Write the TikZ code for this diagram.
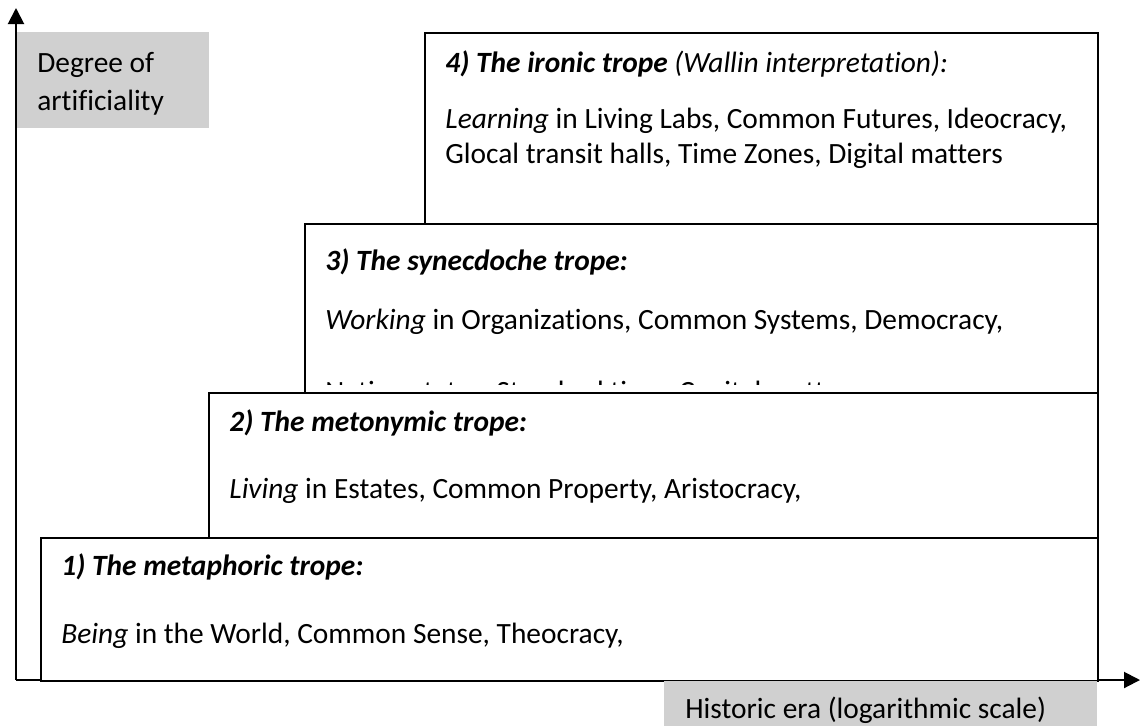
\documentclass[tikz,border=0pt]{standalone}
\usepackage{fontspec}
\setmainfont{Carlito}[Ligatures=NoCommon]
\usetikzlibrary{arrows.meta}
\definecolor{labelgray}{RGB}{208,208,208}
\begin{document}
\begin{tikzpicture}[
        x=0.5pt, y=-0.5pt,
        every node/.style={font=\fontsize{14.7pt}{17pt}\selectfont},
        trope/.style={draw, line width=1pt, fill=white, anchor=north west, inner sep=0pt},
        txt/.style={anchor=base west, inner sep=0pt},
        graybox/.style={fill=labelgray, anchor=north west, inner sep=0pt},
        axis/.style={line width=1pt, -{Triangle[length=8pt, width=8pt]}}
    ]
    \useasboundingbox (0,0) rectangle (1140,725);
    % axes
    \coordinate (origin) at (16,680);
    \coordinate (ytip) at (16,8);
    \coordinate (xtip) at (1140,680);
    \draw[axis] (origin) -- (ytip);
    \draw[axis] (origin) -- (xtip);
    % the four trope boxes
    \node[trope, minimum width=336.5pt, minimum height=95.5pt] (ironic) at (424,32) {};
    \node[trope, minimum width=396.5pt, minimum height=84.5pt] (synec) at (304,223) {};
    \node[trope, minimum width=444.5pt, minimum height=72.5pt] (meton) at (208,392) {};
    \node[trope, minimum width=528.5pt, minimum height=71.5pt] (metaph) at (40,537) {};
    % 4)
    \node[txt] (ironicT) at (445,72) {\textbf{\textit{4) The ironic trope}} \textit{(Wallin interpretation):}};
    \node[txt] (ironicA) at (445,128) {\textit{Learning} in Living Labs, Common Futures, Ideocracy,};
    \node[txt] (ironicB) at (445,163) {Glocal transit halls, Time Zones, Digital matters};
    % 3)
    \node[txt] (synecT) at (325,270) {\textbf{\textit{3) The synecdoche trope:}}};
    \node[txt] (synecA) at (325,329) {\textit{Working} in Organizations, Common Systems, Democracy,};
    \begin{scope}
        \clip (304,223) rectangle (1097,384);
        \node[txt] (synecB) at (325,401) {Nation states, Standard time, Capital matters};
    \end{scope}
    % 2)
    \node[txt] (metonT) at (229,431) {\textbf{\textit{2) The metonymic trope:}}};
    \node[txt] (metonA) at (229,498) {\textit{Living} in Estates, Common Property, Aristocracy,};
    % 1)
    \node[txt] (metaphT) at (61,575) {\textbf{\textit{1) The metaphoric trope:}}};
    \node[txt] (metaphA) at (61,643) {\textit{Being} in the World, Common Sense, Theocracy,};
    % axis labels
    \node[graybox, minimum width=96pt, minimum height=48pt] (ylab) at (17,32) {};
    \node[txt] (ylabA) at (37,72) {Degree of};
    \node[txt] (ylabB) at (37,110) {artificiality};
    \node[graybox, minimum width=216.5pt, minimum height=22.5pt] (xlab) at (664,680.5) {};
    \node[txt] (xlabA) at (685,718) {Historic era (logarithmic scale)};
\end{tikzpicture}
\end{document}
